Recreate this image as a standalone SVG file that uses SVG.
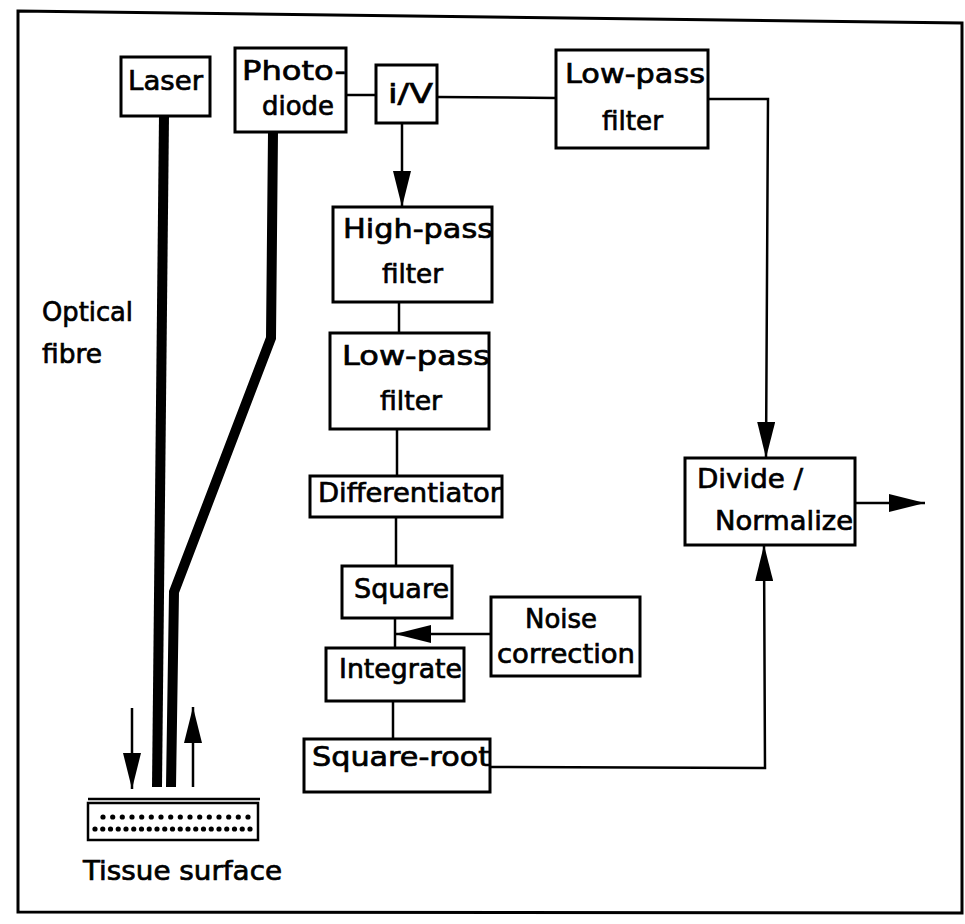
<svg xmlns="http://www.w3.org/2000/svg" width="965" height="924" viewBox="0 0 965 924">
<style>
.box{fill:#fff;stroke:#000;stroke-width:3}
.ln{fill:none;stroke:#000;stroke-width:2.5}
.fib{fill:none;stroke:#000;stroke-width:10;stroke-linejoin:miter}
text{font-family:"DejaVu Sans","Liberation Sans",sans-serif;font-size:27px;fill:#000;stroke:#000;stroke-width:0.7}
</style>
<defs>
<marker id="ah" viewBox="0 0 36 18" refX="36" refY="9" markerWidth="36" markerHeight="18" markerUnits="userSpaceOnUse" orient="auto">
<path d="M0,0 L36,9 L0,18 z" fill="#000"/>
</marker>
</defs>
<rect x="0" y="0" width="965" height="924" fill="#fff"/>
<path d="M18,11 L962,23 L962,913 L18,912 Z" fill="none" stroke="#000" stroke-width="3"/>

<g id="connectors">
<line class="ln" x1="346" y1="95" x2="376" y2="95"/>
<line class="ln" x1="437" y1="97" x2="556" y2="98"/>
<polyline class="ln" points="708,99 768,99 766,458" marker-end="url(#ah)"/>
<line class="ln" x1="402" y1="123" x2="402" y2="207" marker-end="url(#ah)"/>
<line class="ln" x1="399" y1="302" x2="399" y2="333"/>
<line class="ln" x1="397" y1="429" x2="397" y2="476"/>
<line class="ln" x1="396" y1="517" x2="396" y2="566"/>
<line class="ln" x1="395" y1="618" x2="395" y2="648"/>
<line class="ln" x1="491" y1="634" x2="395" y2="634" marker-end="url(#ah)"/>
<line class="ln" x1="393" y1="701" x2="393" y2="739"/>
<polyline class="ln" points="490,767 765,768 764,545" marker-end="url(#ah)"/>
<line class="ln" x1="855" y1="503" x2="925" y2="503" marker-end="url(#ah)"/>
<line class="ln" x1="132" y1="708" x2="132" y2="789" marker-end="url(#ah)"/>
<line class="ln" x1="193" y1="787" x2="193" y2="707" marker-end="url(#ah)"/>
</g>

<g id="fibres">
<line class="fib" x1="164" y1="116" x2="157" y2="787"/>
<polyline class="fib" points="273,132 271,338 174,592 171,787"/>
</g>

<g id="laser"><rect class="box" x="121" y="57" width="89" height="59"/><text x="128" y="90" textLength="75" lengthAdjust="spacingAndGlyphs">Laser</text></g>
<g id="photodiode"><rect class="box" x="235" y="48" width="111" height="84"/><text x="242" y="80" textLength="104" lengthAdjust="spacingAndGlyphs">Photo-</text><text x="262" y="115" textLength="72" lengthAdjust="spacingAndGlyphs">diode</text></g>
<g id="iv"><rect class="box" x="376" y="65" width="61" height="58"/><text x="388" y="103" textLength="45" lengthAdjust="spacingAndGlyphs">i/V</text></g>
<g id="lowpass1"><rect class="box" x="556" y="50" width="152" height="98"/><text x="565" y="83" textLength="140" lengthAdjust="spacingAndGlyphs">Low-pass</text><text x="602" y="130" textLength="61" lengthAdjust="spacingAndGlyphs">filter</text></g>
<g id="highpass"><rect class="box" x="333" y="207" width="159" height="95"/><text x="343" y="238" textLength="150" lengthAdjust="spacingAndGlyphs">High-pass</text><text x="382" y="283" textLength="61" lengthAdjust="spacingAndGlyphs">filter</text></g>
<g id="lowpass2"><rect class="box" x="330" y="333" width="159" height="96"/><text x="342" y="365" textLength="148" lengthAdjust="spacingAndGlyphs">Low-pass</text><text x="380" y="410" textLength="62" lengthAdjust="spacingAndGlyphs">filter</text></g>
<g id="differentiator"><rect class="box" x="310" y="476" width="192" height="41"/><text x="318" y="502" textLength="183" lengthAdjust="spacingAndGlyphs">Differentiator</text></g>
<g id="square"><rect class="box" x="342" y="566" width="110" height="52"/><text x="354" y="598" textLength="95" lengthAdjust="spacingAndGlyphs">Square</text></g>
<g id="noise"><rect class="box" x="491" y="597" width="149" height="79"/><text x="525" y="628" textLength="72" lengthAdjust="spacingAndGlyphs">Noise</text><text x="497" y="663" textLength="138" lengthAdjust="spacingAndGlyphs">correction</text></g>
<g id="integrate"><rect class="box" x="326" y="648" width="138" height="53"/><text x="339" y="678" textLength="123" lengthAdjust="spacingAndGlyphs">Integrate</text></g>
<g id="squareroot"><rect class="box" x="304" y="739" width="186" height="53"/><text x="312" y="766" textLength="178" lengthAdjust="spacingAndGlyphs">Square-root</text></g>
<g id="divide"><rect class="box" x="685" y="458" width="170" height="87"/><text x="697" y="488" textLength="106" lengthAdjust="spacingAndGlyphs">Divide /</text><text x="715" y="530" textLength="138" lengthAdjust="spacingAndGlyphs">Normalize</text></g>

<g id="optical-label"><text x="42" y="321" textLength="91" lengthAdjust="spacingAndGlyphs">Optical</text><text x="42" y="363" textLength="60" lengthAdjust="spacingAndGlyphs">fibre</text></g>

<g id="tissue">
<line class="ln" x1="88" y1="799" x2="260" y2="799"/>
<rect x="88" y="803" width="170" height="37" fill="none" stroke="#000" stroke-width="2.5"/>
<g fill="#000">
<circle cx="103" cy="817" r="2.6"/><circle cx="112.7" cy="817" r="2.6"/><circle cx="122.3" cy="817" r="2.6"/><circle cx="132" cy="817" r="2.6"/><circle cx="141.7" cy="817" r="2.6"/><circle cx="151.3" cy="817" r="2.6"/><circle cx="161" cy="817" r="2.6"/><circle cx="170.7" cy="817" r="2.6"/><circle cx="180.3" cy="817" r="2.6"/><circle cx="190" cy="817" r="2.6"/><circle cx="199.7" cy="817" r="2.6"/><circle cx="209.3" cy="817" r="2.6"/><circle cx="219" cy="817" r="2.6"/><circle cx="228.7" cy="817" r="2.6"/><circle cx="238.3" cy="817" r="2.6"/><circle cx="248" cy="817" r="2.6"/>
<circle cx="95" cy="829" r="2.6"/><circle cx="102.75" cy="829" r="2.6"/><circle cx="110.5" cy="829" r="2.6"/><circle cx="118.25" cy="829" r="2.6"/><circle cx="126" cy="829" r="2.6"/><circle cx="133.75" cy="829" r="2.6"/><circle cx="141.5" cy="829" r="2.6"/><circle cx="149.25" cy="829" r="2.6"/><circle cx="157" cy="829" r="2.6"/><circle cx="164.75" cy="829" r="2.6"/><circle cx="172.5" cy="829" r="2.6"/><circle cx="180.25" cy="829" r="2.6"/><circle cx="188" cy="829" r="2.6"/><circle cx="195.75" cy="829" r="2.6"/><circle cx="203.5" cy="829" r="2.6"/><circle cx="211.25" cy="829" r="2.6"/><circle cx="219" cy="829" r="2.6"/><circle cx="226.75" cy="829" r="2.6"/><circle cx="234.5" cy="829" r="2.6"/><circle cx="242.25" cy="829" r="2.6"/><circle cx="250" cy="829" r="2.6"/>
</g>
<text x="83" y="880" textLength="199" lengthAdjust="spacingAndGlyphs">Tissue surface</text>
</g>
</svg>
